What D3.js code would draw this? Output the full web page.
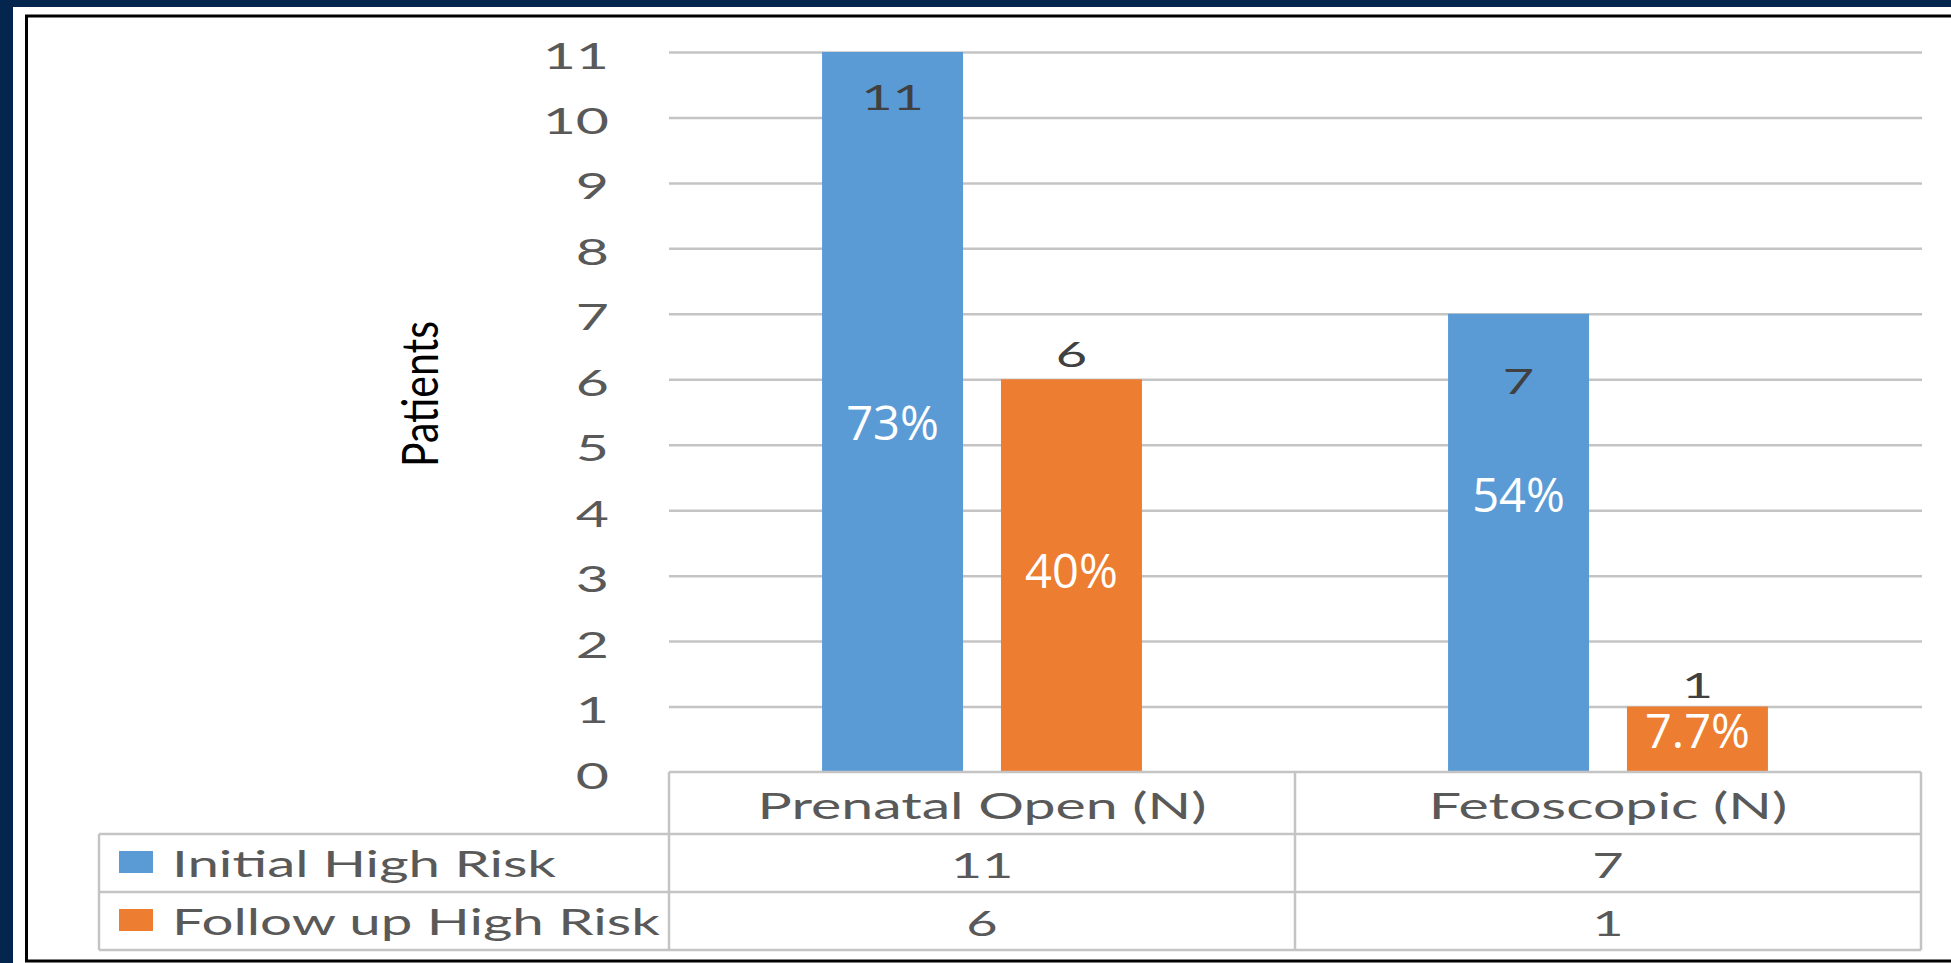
<!DOCTYPE html>
<html><head><meta charset="utf-8">
<script src="https://cdn.jsdelivr.net/npm/d3@7"></script>
<style>html,body{margin:0;padding:0;background:#fff;overflow:hidden}</style>
</head><body><svg id="c" width="1951" height="963"></svg>
<script>
// ---- data ----
const categories = ["Prenatal Open (N)", "Fetoscopic (N)"];
const seriesNames = ["Initial High Risk", "Follow up High Risk"];
const initialHighRisk = [11, 7];
const followUpHighRisk = [6, 1];
const initialPct = ["73%", "54%"];
const followUpPct = ["40%", "7.7%"];
const yTicks = [0, 1, 2, 3, 4, 5, 6, 7, 8, 9, 10, 11];
const yAxisTitle = "Patients";

// ---- style / layout ----
const colors = ["#5B9BD5", "#ED7D31"];
const navy = "#03254e";
const gridColor = "#c4c4c4";
const textGray = "#595959";
const plot = { left: 669, right: 1921, top: 52, zero: 772 };
const tableRows = [772, 834, 892, 950];
const tableLeft = 99;
// value label baseline offset from bar top, [series][category]
const valueLabelDy = [[58, 80], [-12, -9]];
// percentage label baseline offset from bar top, [series][category]
const pctLabelDy = [[388, 198], [209, 41]];

const svg = d3.select("#c");
svg.append("rect").attr("width", 1951).attr("height", 963).attr("fill", "#fff");
svg.append("rect").attr("x", 0).attr("y", 0).attr("width", 1951).attr("height", 7).attr("fill", navy);
svg.append("rect").attr("x", 0).attr("y", 0).attr("width", 13).attr("height", 963).attr("fill", navy);
svg.append("rect").attr("x", 26.5).attr("y", 16).attr("width", 2000).attr("height", 945)
  .attr("fill", "none").attr("stroke", "#000").attr("stroke-width", 3);

// calibrate horizontal stretch of chart text
const FONT = "Lato, 'Open Sans', sans-serif";
const tmp = svg.append("text").attr("font-family", FONT).attr("font-size", 37).text(categories[0]);
const sx = 449 / tmp.node().getComputedTextLength();
tmp.remove();

function stext(parent, x, y, txt, size, anchor, fill) {
  return parent.append("text")
    .attr("transform", `translate(${x},${y}) scale(${sx},1)`)
    .attr("text-anchor", anchor)
    .attr("font-family", FONT)
    .attr("font-size", size)
    .attr("fill", fill)
    .text(txt);
}

// scales
const y = d3.scaleLinear().domain([0, 11]).range([plot.zero, plot.top]);
const x0 = d3.scaleBand().domain(categories).range([plot.left, plot.right]);
const bw = x0.bandwidth();
const x1 = d3.scaleBand().domain(seriesNames).range([bw * 0.2445, bw * 0.7555]).paddingInner(0.212);

// gridlines
const grid = svg.append("g").attr("transform", `translate(${plot.left},0)`)
  .call(d3.axisLeft(y).tickValues(yTicks.filter(v => v > 0)).tickSize(-(plot.right + 1 - plot.left)).tickFormat(""));
grid.select(".domain").remove();
grid.selectAll("line").attr("stroke", gridColor).attr("stroke-width", 2.5);

// y axis labels
const yAx = svg.append("g").attr("transform", `translate(${plot.left},0)`)
  .call(d3.axisLeft(y).tickValues(yTicks).tickSize(0).tickFormat(d3.format("d")));
yAx.select(".domain").remove();
yAx.selectAll("line").remove();
yAx.selectAll("text")
  .attr("x", null).attr("dy", null)
  .attr("transform", `translate(-60,16) scale(${sx},1)`)
  .attr("font-family", FONT).attr("font-size", 37)
  .attr("fill", textGray).attr("text-anchor", "end");

// axis title
svg.append("text")
  .attr("transform", "translate(438,394) scale(1.24,1) rotate(-90)")
  .attr("text-anchor", "middle")
  .attr("font-family", FONT).attr("font-size", 41).attr("fill", "#000")
  .text(yAxisTitle);

// bars
const seriesValues = [initialHighRisk, followUpHighRisk];
const seriesPct = [initialPct, followUpPct];
const barsG = svg.append("g");
seriesNames.forEach((s, si) => {
  categories.forEach((c, ci) => {
    const v = seriesValues[si][ci];
    const bx = x0(c) + x1(s);
    barsG.append("rect")
      .attr("x", bx).attr("y", y(v))
      .attr("width", x1.bandwidth()).attr("height", y(0) - y(v))
      .attr("fill", colors[si]);
    const cx = bx + x1.bandwidth() / 2;
    stext(barsG, cx, y(v) + valueLabelDy[si][ci], String(v), 35, "middle", "#404040");
    barsG.append("text")
      .attr("transform", `translate(${cx},${y(v) + pctLabelDy[si][ci]}) scale(0.98,1)`)
      .attr("text-anchor", "middle")
      .attr("font-family", "'Open Sans', sans-serif")
      .attr("font-size", 48).attr("fill", "#fff")
      .text(seriesPct[si][ci]);
  });
});

// data table
const tG = svg.append("g");
const lineAttr = sel => sel.attr("stroke", gridColor).attr("stroke-width", 2.5);
lineAttr(tG.append("line").attr("x1", plot.left).attr("x2", plot.right).attr("y1", tableRows[0]).attr("y2", tableRows[0]));
tableRows.slice(1).forEach(r => {
  lineAttr(tG.append("line").attr("x1", tableLeft).attr("x2", plot.right).attr("y1", r).attr("y2", r));
});
lineAttr(tG.append("line").attr("x1", tableLeft).attr("x2", tableLeft).attr("y1", tableRows[1]).attr("y2", tableRows[3]));
[...categories.map(c => x0(c)), plot.right].forEach(xx => {
  lineAttr(tG.append("line").attr("x1", xx).attr("x2", xx).attr("y1", tableRows[0]).attr("y2", tableRows[3]));
});
categories.forEach((c, ci) => {
  const cx = x0(c) + bw / 2;
  stext(tG, cx, 819, c, 37, "middle", textGray);
  seriesNames.forEach((s, si) => {
    const rc = (tableRows[si + 1] + tableRows[si + 2]) / 2;
    stext(tG, cx, rc + 15, String(seriesValues[si][ci]), 35, "middle", textGray);
  });
});
seriesNames.forEach((s, si) => {
  const rc = (tableRows[si + 1] + tableRows[si + 2]) / 2;
  tG.append("rect").attr("x", 119).attr("y", rc - 12).attr("width", 34).attr("height", 22).attr("fill", colors[si]);
  stext(tG, 172, rc + 14, s, 36.5, "start", textGray);
});
</script>
</body></html>
